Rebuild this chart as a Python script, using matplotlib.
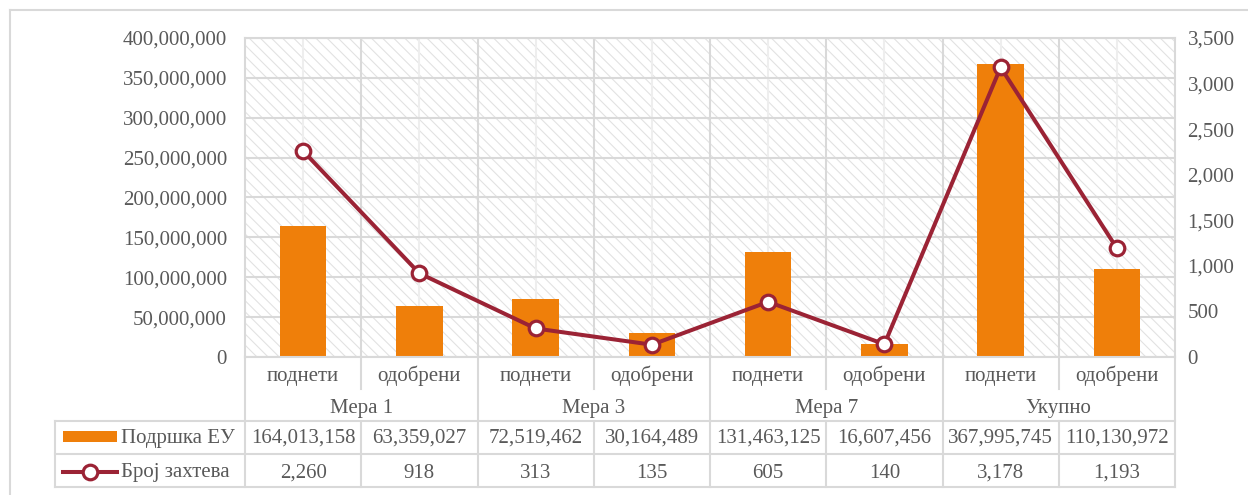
import matplotlib
matplotlib.use("Agg")
import matplotlib.pyplot as plt
from matplotlib.patches import Rectangle
from matplotlib.lines import Line2D
from matplotlib.transforms import blended_transform_factory
from matplotlib.ticker import FuncFormatter, MultipleLocator

plt.rcParams['font.family'] = ['Liberation Serif', 'DejaVu Serif']
plt.rcParams['hatch.linewidth'] = 0.8

# ---- data ----
groups = ["Мера 1", "Мера 3", "Мера 7", "Укупно"]
subcats = ["поднети", "одобрени"] * 4
support_eu = [164013158, 63359027, 72519462, 30164489, 131463125, 16607456, 367995745, 110130972]
requests = [2260, 918, 313, 135, 605, 140, 3178, 1193]
series_names = ["Подршка ЕУ", "Број захтева"]

TXT = "#595959"
ORANGE = "#EF7F0A"
RED = "#9B2335"
GRID = "#D9D9D9"
GRID_LIGHT = "#EEEEEE"
FS = 15

W, H = 1248, 495
fig = plt.figure(figsize=(W / 100, H / 100), dpi=100)

def fx(px):
    return px / W

def fy(py):
    return 1 - py / H

ax_l, ax_r, ax_t, ax_b = 245, 1175, 38, 357
ax = fig.add_axes([fx(ax_l), fy(ax_b), fx(ax_r - ax_l), (ax_b - ax_t) / H])
ax.set_facecolor("white")
n = len(subcats)
xs = list(range(n))
ax.set_xlim(-0.5, n - 0.5)
ax.set_ylim(0, 400_000_000)
ax.yaxis.set_major_locator(MultipleLocator(50_000_000))
ax.yaxis.set_major_formatter(FuncFormatter(lambda v, p: f"{v:,.0f}"))

# hatched background
ax.add_patch(Rectangle((0, 0), 1, 1, transform=ax.transAxes, facecolor="white",
                       edgecolor="#E2E2E2", hatch="\\\\\\", linewidth=0, zorder=0))
ax.grid(axis="y", color=GRID, linewidth=1.5, zorder=1)
for i in range(n):
    ax.axvline(i, color=GRID_LIGHT, linewidth=1.5, zorder=1)
for i in range(1, n):
    ax.axvline(i - 0.5, color=GRID, linewidth=1.5, zorder=1)

ax.bar(xs, support_eu, width=0.4, color=ORANGE, zorder=2)

for s in ax.spines.values():
    s.set_color(GRID)
    s.set_linewidth(1.5)
ax.set_xticks([])
ax.tick_params(axis="y", length=0, labelsize=FS, labelcolor=TXT, pad=13)

ax2 = ax.twinx()
ax2.set_ylim(0, 3500)
ax2.yaxis.set_major_locator(MultipleLocator(500))
ax2.yaxis.set_major_formatter(FuncFormatter(lambda v, p: f"{v:,.0f}"))
ax2.tick_params(axis="y", length=0, labelsize=FS, labelcolor=TXT, pad=9)
for s in ax2.spines.values():
    s.set_visible(False)
ax2.plot(xs, requests, color=RED, linewidth=2.9, marker="o", markersize=10.5,
         markerfacecolor="white", markeredgecolor=RED, markeredgewidth=2.3, zorder=5)

# ---- data table below the axes ----
def ay(py):
    return -(py - ax_b) / (ax_b - ax_t)

tr = blended_transform_factory(ax.transData, ax.transAxes)
tra = ax.transAxes

def vline(x, py0, py1, transform=tr):
    ax.add_line(Line2D([x, x], [ay(py0), ay(py1)], transform=transform, color=GRID,
                       linewidth=1.5, clip_on=False))

y_cat, y_grp, y_r1, y_r2, y_end = 357, 389, 421, 454, 487
leg_left = (55 - ax_l) / (ax_r - ax_l)

# vertical lines
vline(-0.5, y_cat, y_end)
vline(n - 0.5, y_cat, y_end)
for g in range(1, 4):
    vline(2 * g - 0.5, y_cat, y_end)
for i in range(0, n, 2):
    vline(i + 0.5, y_cat, y_grp)
    vline(i + 0.5, y_r1, y_end)
vline(leg_left, y_r1, y_end, transform=tra)
# horizontal lines
for py in (y_r1, y_r2, y_end):
    ax.add_line(Line2D([leg_left, 1], [ay(py), ay(py)], transform=tra, color=GRID,
                       linewidth=1.5, clip_on=False))

for i, s in enumerate(subcats):
    ax.text(i, ay(376), s, transform=tr, ha="center", va="center", fontsize=FS, color=TXT)
for g, name in enumerate(groups):
    ax.text(2 * g + 0.5, ay(408), name, transform=tr, ha="center", va="center",
            fontsize=FS, color=TXT)
for i in range(n):
    ax.text(i, ay(438), f"{support_eu[i]:,}", transform=tr, ha="center", va="center",
            fontsize=FS, color=TXT)
    ax.text(i, ay(473), f"{requests[i]:,}", transform=tr, ha="center", va="center",
            fontsize=FS, color=TXT)

# legend keys in table
k0, k1 = (63 - ax_l) / (ax_r - ax_l), (117 - ax_l) / (ax_r - ax_l)
ax.add_patch(Rectangle((k0, ay(442)), k1 - k0, ay(431) - ay(442), transform=tra,
                       facecolor=ORANGE, edgecolor="none", clip_on=False))
ax.add_line(Line2D([k0, k1], [ay(472), ay(472)], transform=tra, color=RED, linewidth=2.9,
                   clip_on=False))
ax.add_line(Line2D([(k0 + k1) / 2], [ay(472)], transform=tra, marker="o", markersize=10.5,
                   markerfacecolor="white", markeredgecolor=RED, markeredgewidth=2.3,
                   clip_on=False))
lx = (121 - ax_l) / (ax_r - ax_l)
ax.text(lx, ay(438), series_names[0], transform=tra, ha="left", va="center", fontsize=FS, color=TXT)
ax.text(lx, ay(473), series_names[1], transform=tra, ha="left", va="center", fontsize=FS, color=TXT)

# outer chart frame
fig.add_artist(Line2D([fx(10), fx(10)], [fy(10), -0.1], color=GRID, linewidth=1.5))
fig.add_artist(Line2D([fx(10), 1.1], [fy(10), fy(10)], color=GRID, linewidth=1.5))

fig.savefig("out.png", dpi=100, facecolor="white")
